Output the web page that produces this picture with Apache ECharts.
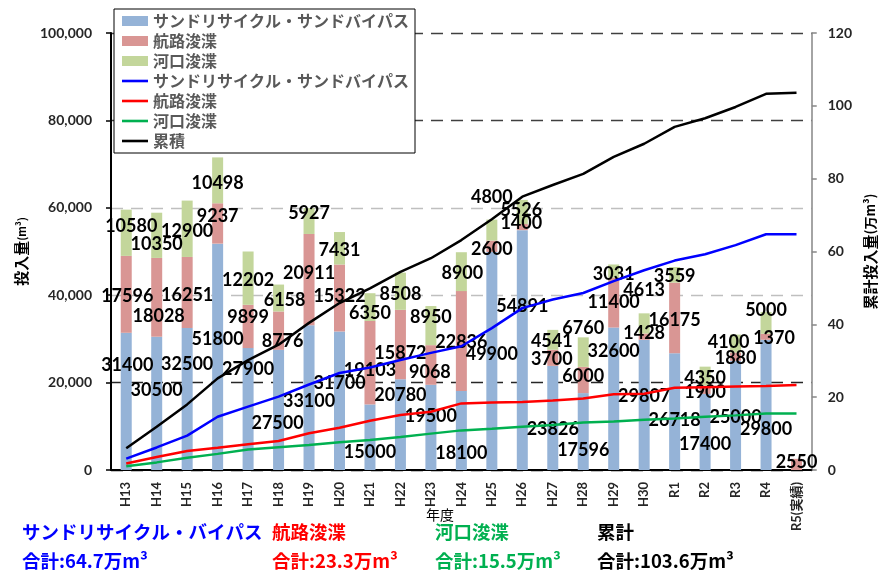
<!DOCTYPE html>
<html>
<head>
<meta charset="utf-8">
<script src="https://cdn.jsdelivr.net/npm/echarts@6/dist/echarts.min.js"></script>
<style>
  html, body { margin: 0; padding: 0; background: #fff; }
  #chart { width: 886px; height: 577px; }
</style>
</head>
<body>
<div id="chart"></div>
<script>
// 年度
const years = ['H13','H14','H15','H16','H17','H18','H19','H20','H21','H22','H23','H24',
               'H25','H26','H27','H28','H29','H30','R1','R2','R3','R4','R5(実績)'];

// 年度別投入量 (m³)
const sandRecycle = [31400,30500,32500,51800,27900,27500,33100,31700,15000,20780,19500,18100,
                     49900,54891,23826,17596,32600,29807,26718,17400,25000,29800,null];
const channelDredge = [17596,18028,16251,9237,9899,8776,20911,15322,19103,15872,9068,22836,
                       2600,1400,3700,6000,11400,1428,16175,1900,1880,1370,2550];
const estuaryDredge = [10580,10350,12900,10498,12202,6158,5927,7431,6350,8508,8950,8900,
                       4800,5526,4541,6760,3031,4613,3559,4350,4100,5000,null];

// 累計投入量 (万m³)
const cumSand = [3.14,6.19,9.44,14.62,17.41,20.16,23.47,26.64,28.14,30.22,32.17,33.98,
                 38.97,44.46,46.84,48.60,51.86,54.84,57.51,59.25,61.75,64.73,64.73];
const cumChannel = [1.76,3.56,5.19,6.11,7.10,7.98,10.07,11.60,13.51,15.10,16.01,18.29,
                    18.55,18.69,19.06,19.66,20.80,20.94,22.56,22.75,22.94,23.08,23.33];
const cumEstuary = [1.06,2.09,3.38,4.43,5.65,6.27,6.86,7.60,8.24,9.09,9.99,10.88,
                    11.36,11.91,12.36,13.04,13.34,13.80,14.16,14.59,15.00,15.50,15.50];
const cumTotal = [5.96,11.85,18.01,25.16,30.16,34.41,40.40,45.85,49.89,54.41,58.16,63.14,
                  68.87,75.06,78.26,81.30,86.00,89.59,94.23,96.60,99.69,103.31,103.57];

// 軸目盛
const leftAxisTicks = { min: 0, max: 100000, interval: 20000 };
const rightAxisTicks = { min: 0, max: 120, interval: 20 };

// 凡例名
const nameSand = 'サンドリサイクル・サンドバイパス';
const nameChannel = '航路浚渫';
const nameEstuary = '河口浚渫';
const nameTotal = '累積';
const cumSuffix = '累計';

// ---- layout: label nudges relative to each stacked segment centre [dx, dy] ----
const sandLabelNudge = [[1,-36],[0,-13],[0,-35],[0,-18],[0,-40],[-1,13],[0,4],[0,-18],[0,15],[0,-29],
  [0,-11],[0,23],[0,-7],[0,-44],[0,11],[0,19],[0,-48],[0,-9],[0,9],[0,12],[0,2],[0,24],[0,0]];
const channelLabelNudge = [[1,2],[2,19],[0,3],[0,-7],[0,-9],[4,11],[0,-6],[0,-2],[0,7],[0,9],
  [-1,7],[0,1],[0,3],[-1,-4],[-1,1],[0,-4],[0,0],[0,-3],[0,2],[0,2],[0,2],[8,1],[0,-2]];
const estuaryLabelNudge = [[5,-7],[0,9],[0,2],[0,3],[0,2],[6,2],[0,-8],[0,2],[0,6],[0,3],
  [0,-8],[1,2],[0,-33],[-1,-2],[-1,1],[0,-24],[0,3],[0,-33],[0,1],[0,2],[-7,-1],[0,-13],[0,0]];

const NUM_FONT = 'Lato, "Noto Sans CJK JP", sans-serif';
const JP_FONT = '"Noto Sans CJK JP", sans-serif';

// thin horizontal stroke used as the legend key of the cumulative lines
const LINE_ICON = 'path://M0,0 L26,0 L26,2.6 L0,2.6 Z';

const barLabel = {
  show: true,
  position: 'inside',
  color: '#000',
  fontFamily: NUM_FONT,
  fontWeight: 'bold',
  fontSize: 18,
  formatter: p => (p.value == null ? '' : String(p.value))
};

function barSeries(name, values, nudges, color) {
  return {
    name: name,
    type: 'bar',
    stack: 'amount',
    barWidth: 11,
    itemStyle: { color: color },
    label: barLabel,
    labelLayout: p => ({
      dx: nudges[p.dataIndex][0],
      dy: nudges[p.dataIndex][1],
      hideOverlap: false
    }),
    data: values,
    z: 2
  };
}

function lineSeries(name, values, color) {
  return {
    name: name,
    type: 'line',
    yAxisIndex: 1,
    symbol: 'none',
    lineStyle: { color: color, width: 2.5 },
    itemStyle: { color: color },
    data: values,
    z: 2
  };
}

const chart = echarts.init(document.getElementById('chart'), null, { renderer: 'canvas' });

const option = {
  backgroundColor: '#fff',
  animation: false,
  grid: { left: 111, right: 74, top: 33, bottom: 107, containLabel: false },
  legend: {
    orient: 'vertical',
    left: 114,
    top: 9,
    padding: [2, 6, 2, 8],
    itemGap: 0,
    itemWidth: 26,
    itemHeight: 10,
    backgroundColor: '#fff',
    borderColor: '#000',
    borderWidth: 1,
    z: 10,
    textStyle: {
      color: '#595959',
      fontFamily: JP_FONT,
      fontWeight: 'bold',
      fontSize: 16,
      lineHeight: 20
    },
    formatter: n => (n === nameTotal ? n : n.replace(new RegExp(cumSuffix + '$'), '')),
    data: [
      { name: nameSand, icon: 'rect' },
      { name: nameChannel, icon: 'rect' },
      { name: nameEstuary, icon: 'rect' },
      { name: nameSand + cumSuffix, icon: LINE_ICON },
      { name: nameChannel + cumSuffix, icon: LINE_ICON },
      { name: nameEstuary + cumSuffix, icon: LINE_ICON },
      { name: nameTotal, icon: LINE_ICON }
    ]
  },
  xAxis: {
    type: 'category',
    data: years,
    boundaryGap: true,
    axisLine: { lineStyle: { color: '#000', width: 2 } },
    axisTick: { show: false },
    axisLabel: {
      rotate: 90,
      margin: 12,
      interval: 0,
      color: '#262626',
      fontFamily: NUM_FONT,
      fontWeight: 'bold',
      fontSize: 13
    },
    splitLine: { show: false }
  },
  yAxis: [
    {
      type: 'value',
      min: leftAxisTicks.min,
      max: leftAxisTicks.max,
      interval: leftAxisTicks.interval,
      position: 'left',
      axisLine: { show: true, lineStyle: { color: '#000', width: 2 } },
      axisTick: { show: true, length: 5, lineStyle: { color: '#000', width: 1.5 } },
      axisLabel: {
        margin: 19,
        color: '#262626',
        fontFamily: NUM_FONT,
        fontWeight: 'bold',
        fontSize: 14,
        formatter: v => v.toLocaleString('en-US')
      },
      splitLine: {
        show: true,
        lineStyle: {
          type: [12, 8],
          width: 1.3,
          color: ['#000', '#262626', '#BFBFBF', '#BFBFBF', '#404040', '#404040']
        }
      },
      name: '{a|投入量}{b|(m³)}',
      nameLocation: 'middle',
      nameRotate: 90,
      nameGap: 79,
      nameTextStyle: {
        rich: {
          a: { fontFamily: JP_FONT, fontWeight: 'bold', fontSize: 15, color: '#000' },
          b: { fontFamily: JP_FONT, fontWeight: 'bold', fontSize: 11, color: '#000' }
        }
      }
    },
    {
      type: 'value',
      min: rightAxisTicks.min,
      max: rightAxisTicks.max,
      interval: rightAxisTicks.interval,
      position: 'right',
      axisLine: { show: true, lineStyle: { color: '#868686', width: 1.5 } },
      axisTick: { show: true, length: 5, lineStyle: { color: '#868686', width: 1.5 } },
      axisLabel: {
        margin: 16,
        color: '#262626',
        fontFamily: NUM_FONT,
        fontWeight: 'bold',
        fontSize: 14
      },
      splitLine: { show: false },
      name: '{a|累計投入量}{b|(万m³)}',
      nameLocation: 'middle',
      nameRotate: 90,
      nameGap: 50,
      nameTextStyle: {
        rich: {
          a: { fontFamily: JP_FONT, fontWeight: 'bold', fontSize: 15, color: '#000' },
          b: { fontFamily: JP_FONT, fontWeight: 'bold', fontSize: 13, color: '#000' }
        }
      }
    }
  ],
  graphic: [
    { type: 'text', left: 426, top: 508, style: { text: '年度', fill: '#000', font: '14px ' + JP_FONT } },
    { type: 'text', left: 22, top: 523, style: { text: 'サンドリサイクル・バイパス', fill: '#0000FF', font: 'bold 18.5px ' + JP_FONT } },
    { type: 'text', left: 22, top: 552, style: { text: '合計:64.7万m³', fill: '#0000FF', font: 'bold 18.5px ' + JP_FONT } },
    { type: 'text', left: 272, top: 523, style: { text: '航路浚渫', fill: '#FF0000', font: 'bold 18.5px ' + JP_FONT } },
    { type: 'text', left: 272, top: 552, style: { text: '合計:23.3万m³', fill: '#FF0000', font: 'bold 18.5px ' + JP_FONT } },
    { type: 'text', left: 435, top: 523, style: { text: '河口浚渫', fill: '#00B050', font: 'bold 18.5px ' + JP_FONT } },
    { type: 'text', left: 435, top: 552, style: { text: '合計:15.5万m³', fill: '#00B050', font: 'bold 18.5px ' + JP_FONT } },
    { type: 'text', left: 597, top: 523, style: { text: '累計', fill: '#000', font: 'bold 18.5px ' + JP_FONT } },
    { type: 'text', left: 597, top: 552, style: { text: '合計:103.6万m³', fill: '#000', font: 'bold 18.5px ' + JP_FONT } }
  ],
  series: [
    barSeries(nameSand, sandRecycle, sandLabelNudge, '#95B3D7'),
    barSeries(nameChannel, channelDredge, channelLabelNudge, '#D99694'),
    barSeries(nameEstuary, estuaryDredge, estuaryLabelNudge, '#C3D69B'),
    lineSeries(nameSand + cumSuffix, cumSand, '#0000FF'),
    lineSeries(nameChannel + cumSuffix, cumChannel, '#FF0000'),
    lineSeries(nameEstuary + cumSuffix, cumEstuary, '#00B050'),
    lineSeries(nameTotal, cumTotal, '#000000')
  ]
};

chart.setOption(option);
</script>
</body>
</html>
